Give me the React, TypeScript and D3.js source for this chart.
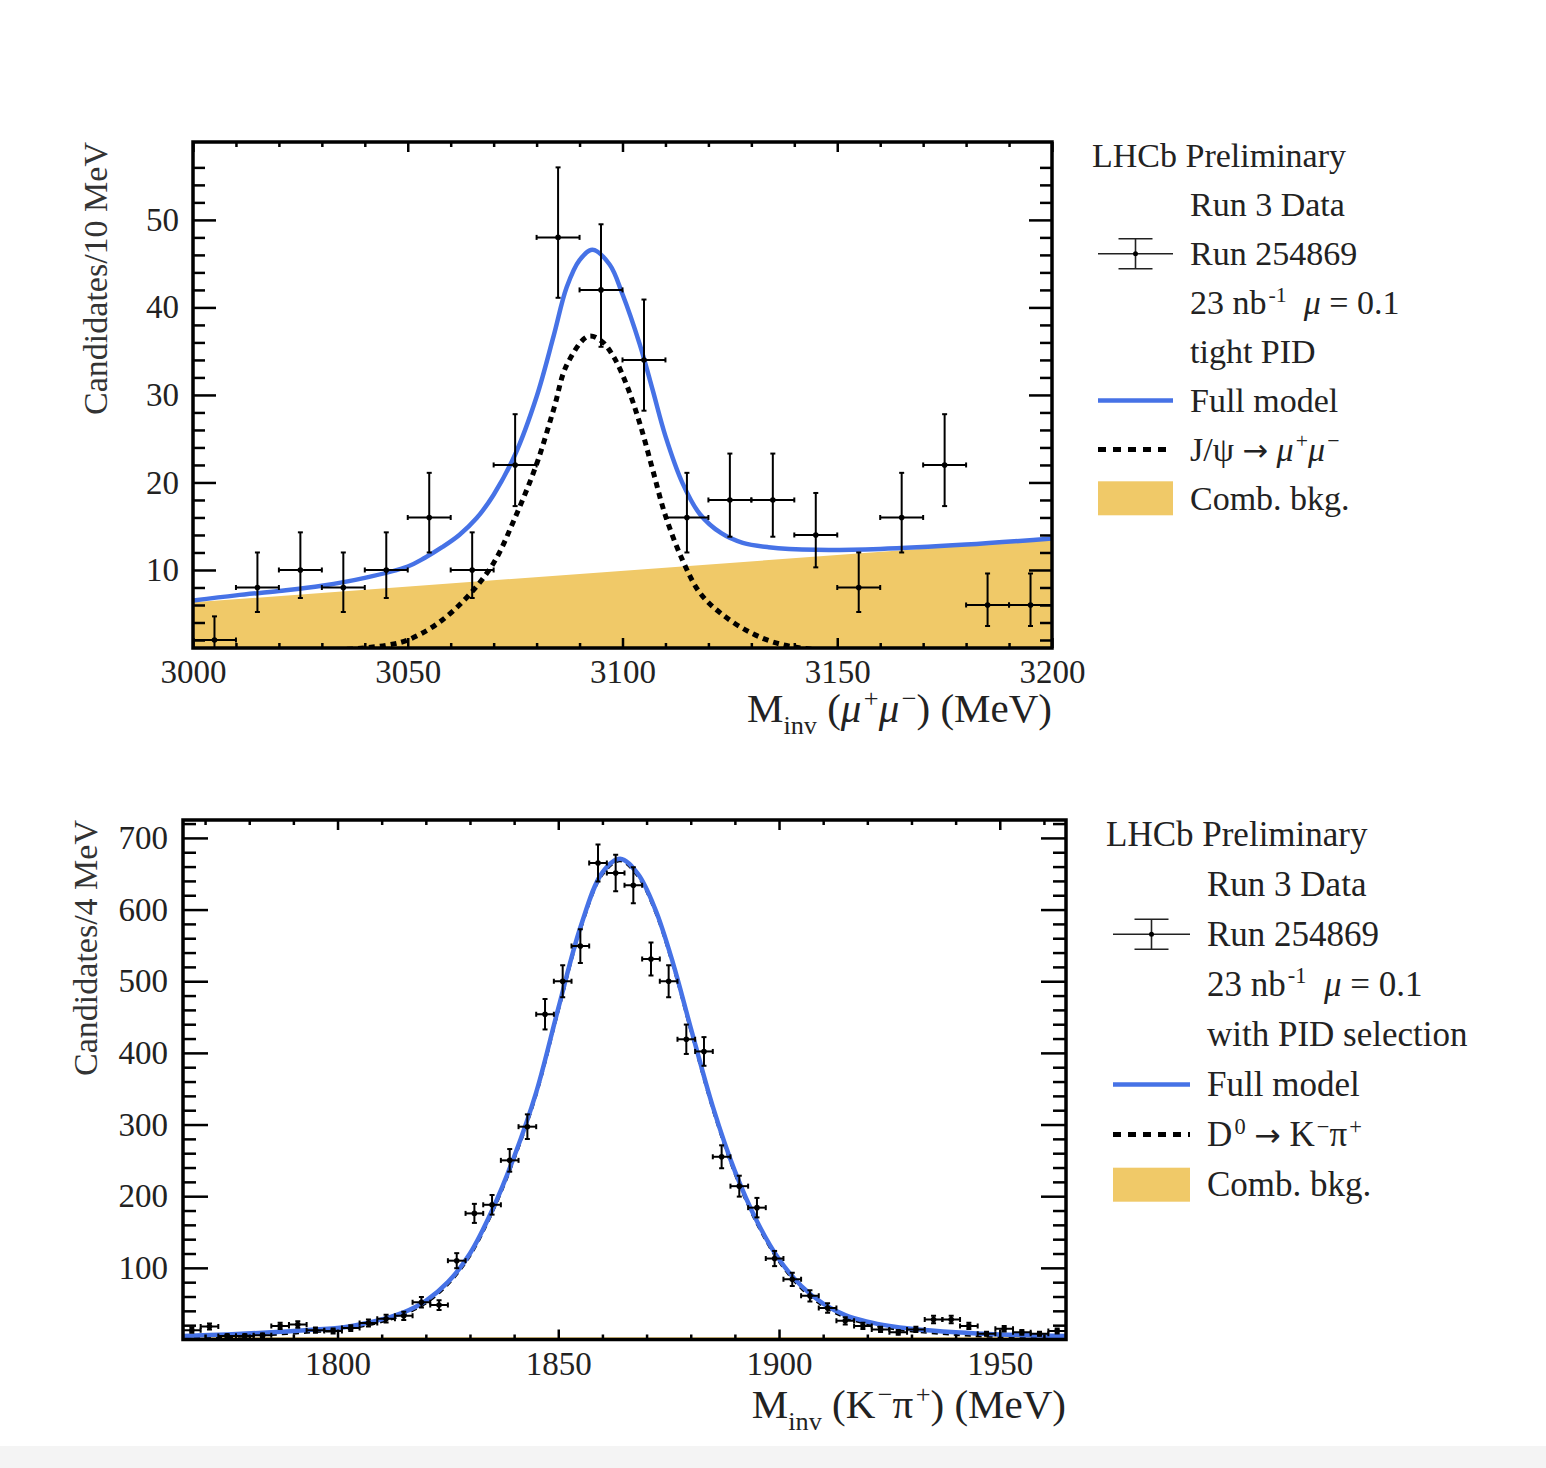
import React, { useEffect, useRef } from 'react';
import * as d3 from 'd3';

const W = 1546;
const H = 1468;
const FONT = '"Liberation Serif", "Times New Roman", Times, serif';
const BLUE = '#4672e6';
const BKG = '#f0c968';

// ---- J/psi -> mu+ mu- panel (Candidates / 10 MeV) ----
const jpsiCenters = [3005, 3015, 3025, 3035, 3045, 3055, 3065, 3075, 3085, 3095, 3105, 3115, 3125, 3135, 3145, 3155, 3165, 3175, 3185, 3195];
const jpsiCounts = [2, 8, 10, 8, 10, 16, 10, 22, 48, 42, 34, 16, 18, 18, 14, 8, 16, 22, 6, 6];
const jpsiErrLo = [1.3, 2.8, 3.2, 2.8, 3.2, 4.0, 3.2, 4.7, 6.9, 6.5, 5.8, 4.0, 4.2, 4.2, 3.7, 2.8, 4.0, 4.7, 2.4, 2.4];
const jpsiErrHi = [2.7, 4.0, 4.3, 4.0, 4.3, 5.1, 4.3, 5.8, 8.0, 7.5, 6.9, 5.1, 5.3, 5.3, 4.8, 4.0, 5.1, 5.8, 3.6, 3.6];
const jpsiModelX = [3000, 3010, 3020, 3030, 3040, 3050, 3054, 3058, 3062, 3066, 3070, 3075, 3080, 3084, 3087, 3090, 3093, 3097, 3100, 3104, 3107, 3110, 3114, 3118, 3123, 3128, 3134, 3145, 3160, 3180, 3200];
const jpsiModelY = [6.5, 7.1, 7.6, 8.2, 9.1, 10.4, 11.4, 12.6, 14.0, 15.9, 18.6, 23.2, 29.8, 36.8, 42.3, 45.4, 46.6, 44.9, 41.5, 35.8, 30.6, 25.3, 19.9, 16.4, 14.2, 13.1, 12.6, 12.3, 12.4, 12.9, 13.6];
const jpsiSigX = [3000, 3020, 3035, 3045, 3050, 3057, 3064, 3070, 3075, 3080, 3084, 3087, 3092, 3095, 3098, 3101, 3104, 3107, 3110, 3114, 3118, 3123, 3130, 3137, 3150, 3170, 3200];
const jpsiSigY = [0.3, 0.5, 0.9, 1.4, 2.0, 3.9, 7.0, 10.8, 16.0, 22.1, 28.4, 33.4, 36.7, 36.2, 34.3, 31.1, 26.8, 21.5, 16.2, 11.1, 7.4, 5.0, 2.8, 1.5, 0.7, 0.4, 0.3];
const jpsiBkgX = [3000, 3200];
const jpsiBkgY = [6.3, 13.5];
const jpsiXTicks = [3000, 3050, 3100, 3150, 3200];
const jpsiYTicks = [10, 20, 30, 40, 50];
const jpsiLegend = ['Run 3 Data', 'Run 254869', '23 nb^{-1}  #it{μ} = 0.1', 'tight PID', 'Full model', 'J/ψ → #it{μ}^{+}#it{μ}^{−}', 'Comb. bkg.'];

// ---- D0 -> K- pi+ panel (Candidates / 4 MeV) ----
const d0Centers = [1767, 1771, 1775, 1779, 1783, 1787, 1791, 1795, 1799, 1803, 1807, 1811, 1815, 1819, 1823, 1827, 1831, 1835, 1839, 1843, 1847, 1851, 1855, 1859, 1863, 1867, 1871, 1875, 1879, 1883, 1887, 1891, 1895, 1899, 1903, 1907, 1911, 1915, 1919, 1923, 1927, 1931, 1935, 1939, 1943, 1947, 1951, 1955, 1959, 1963];
const d0Counts = [13, 18, 5, 5, 6, 19, 21, 13, 12, 16, 23, 29, 33, 52, 48, 110, 176, 188, 250, 297, 454, 500, 549, 665, 651, 634, 531, 500, 419, 402, 255, 214, 184, 113, 84, 61, 44, 26, 19, 14, 10, 14, 28, 28, 19, 8, 15, 10, 8, 12];
const d0Err = [3.6, 4.2, 2.2, 2.2, 2.4, 4.4, 4.6, 3.6, 3.5, 4.0, 4.8, 5.4, 5.7, 7.2, 6.9, 10.5, 13.3, 13.7, 15.8, 17.2, 21.3, 22.4, 23.4, 25.8, 25.5, 25.2, 23.0, 22.4, 20.5, 20.0, 16.0, 14.6, 13.6, 10.6, 9.2, 7.8, 6.6, 5.1, 4.4, 3.7, 3.2, 3.7, 5.3, 5.3, 4.4, 2.8, 3.9, 3.2, 2.8, 3.5];
const d0ModelX = [1765, 1775, 1785, 1795, 1800, 1805, 1810, 1815, 1820, 1825, 1830, 1835, 1840, 1845, 1850, 1855, 1860, 1864, 1868, 1872, 1876, 1880, 1885, 1890, 1895, 1900, 1905, 1910, 1915, 1920, 1925, 1930, 1940, 1950, 1965];
const d0ModelY = [5, 7, 10, 14, 16, 21, 28, 38, 54, 80, 120, 180, 255, 345, 462, 575, 652, 671, 650, 600, 525, 435, 325, 235, 165, 112, 75, 50, 34, 25, 19, 15, 10, 7, 5];
const d0SigY = [2, 4, 7, 11, 13, 18, 25, 35, 51, 77, 117, 177, 252, 342, 459, 572, 649, 668, 647, 597, 522, 432, 322, 232, 162, 109, 72, 47, 31, 22, 16, 12, 7, 4, 2];
const d0BkgX = [1765, 1965];
const d0BkgY = [3, 3];
const d0XTicks = [1800, 1850, 1900, 1950];
const d0YTicks = [100, 200, 300, 400, 500, 600, 700];
const d0Legend = ['Run 3 Data', 'Run 254869', '23 nb^{-1}  #it{μ} = 0.1', 'with PID selection', 'Full model', 'D^{0} → K^{−}π^{+}', 'Comb. bkg.'];

// tiny TLatex-like markup: ^{..} superscript, _{..} subscript, #it{..} italic, arrow in a wider font
function latex(text: any, str: string, size: number) {
  const parts = str.split(/(\^\{[^}]*\}|_\{[^}]*\}|#it\{[^}]*\}|→)/).filter((s) => s !== '');
  let shift = 0;
  parts.forEach((p) => {
    let txt = p, dy = 0, dx = 0, fs = size, it = false, arrow = false;
    if (p.startsWith('^{')) { txt = p.slice(2, -1); dy = -0.36 * size; fs = 0.64 * size; dx = 0.06 * size; }
    else if (p.startsWith('_{')) { txt = p.slice(2, -1); dy = 0.3 * size; fs = 0.64 * size; }
    else if (p.startsWith('#it{')) { txt = p.slice(4, -1); it = true; }
    else if (p === '→') { arrow = true; fs = 0.9 * size; }
    const t = text.append('tspan').attr('dy', dy - shift).attr('font-size', fs).text(txt);
    if (dx) t.attr('dx', dx);
    if (it) t.attr('font-style', 'italic');
    if (arrow) t.attr('font-family', '"DejaVu Sans", sans-serif');
    shift = dy;
  });
}

function drawPanel(svg: any, p: any) {
  const x = d3.scaleLinear().domain(p.xDomain).range([p.left, p.right]);
  const y = d3.scaleLinear().domain(p.yDomain).range([p.bottom, p.top]);

  svg.append('clipPath').attr('id', p.id).append('rect')
    .attr('x', p.left).attr('y', p.top)
    .attr('width', p.right - p.left).attr('height', p.bottom - p.top);
  const g = svg.append('g').attr('clip-path', `url(#${p.id})`);

  const bkgArea = d3.area<number>()
    .x((_, i) => x(p.bkgX[i]))
    .y0(y(p.yDomain[0]))
    .y1((d) => y(d));
  g.append('path').datum(p.bkgY).attr('d', bkgArea).attr('fill', BKG);

  const sigLine = d3.line<number>().x((_, i) => x(p.sigX[i])).y((d) => y(d)).curve(d3.curveCatmullRom.alpha(0.5));
  g.append('path').datum(p.sigY).attr('d', sigLine)
    .attr('fill', 'none').attr('stroke', '#000').attr('stroke-width', p.sigWidth)
    .attr('stroke-dasharray', '6 5');

  const modelLine = d3.line<number>().x((_, i) => x(p.modelX[i])).y((d) => y(d)).curve(d3.curveCatmullRom.alpha(0.5));
  g.append('path').datum(p.modelY).attr('d', modelLine)
    .attr('fill', 'none').attr('stroke', BLUE).attr('stroke-width', 4.5);

  // data points with error bars
  const pts = g.append('g').attr('stroke', '#000').attr('stroke-width', 2)
    .selectAll('g').data(p.counts).enter().append('g');
  const cx = (i: number) => x(p.centers[i]);
  pts.append('line')
    .attr('x1', (_: any, i: number) => cx(i)).attr('x2', (_: any, i: number) => cx(i))
    .attr('y1', (d: number, i: number) => y(d - p.errLo[i])).attr('y2', (d: number, i: number) => y(d + p.errHi[i]));
  pts.append('line')
    .attr('x1', (_: any, i: number) => x(p.centers[i] - p.halfBin)).attr('x2', (_: any, i: number) => x(p.centers[i] + p.halfBin))
    .attr('y1', (d: number) => y(d)).attr('y2', (d: number) => y(d));
  [-1, 1].forEach((s) => {
    pts.append('line')
      .attr('x1', (_: any, i: number) => cx(i) - 2.5).attr('x2', (_: any, i: number) => cx(i) + 2.5)
      .attr('y1', (d: number, i: number) => y(s > 0 ? d + p.errHi[i] : d - p.errLo[i]))
      .attr('y2', (d: number, i: number) => y(s > 0 ? d + p.errHi[i] : d - p.errLo[i]));
    pts.append('line')
      .attr('x1', (_: any, i: number) => x(p.centers[i] + s * p.halfBin)).attr('x2', (_: any, i: number) => x(p.centers[i] + s * p.halfBin))
      .attr('y1', (d: number) => y(d) - 2.5).attr('y2', (d: number) => y(d) + 2.5);
  });
  pts.append('circle')
    .attr('cx', (_: any, i: number) => cx(i)).attr('cy', (d: number) => y(d))
    .attr('r', 2.8).attr('fill', '#000').attr('stroke', 'none');

  // ROOT style ticks on all four sides
  const axes = svg.append('g');
  const addAxis = (axis: any, tr: string) => {
    const a = axes.append('g').attr('transform', tr).call(axis);
    a.attr('font-family', FONT);
    a.select('.domain').remove();
    a.selectAll('.tick line').attr('stroke', '#000').attr('stroke-width', 2.5);
    return a;
  };
  const none = () => '';
  const xb = addAxis(d3.axisBottom(x).tickValues(p.xTicks).tickSize(-p.xMaj).tickFormat(d3.format('d')), `translate(0,${p.bottom})`);
  xb.selectAll('text').attr('y', p.xLabelOff).attr('dy', 0).attr('font-size', p.tickFont).attr('font-family', FONT).attr('fill', '#222');
  addAxis(d3.axisBottom(x).tickValues(p.xMinor).tickSize(-p.xMin).tickFormat(none), `translate(0,${p.bottom})`);
  addAxis(d3.axisTop(x).tickValues(p.xTicks).tickSize(-p.xMaj).tickFormat(none), `translate(0,${p.top})`);
  addAxis(d3.axisTop(x).tickValues(p.xMinor).tickSize(-p.xMin).tickFormat(none), `translate(0,${p.top})`);
  const yl = addAxis(d3.axisLeft(y).tickValues(p.yTicks).tickSize(-p.yMaj).tickPadding(p.yLabelPad).tickFormat(d3.format('d')), `translate(${p.left},0)`);
  yl.selectAll('text').attr('font-size', p.tickFont).attr('font-family', FONT).attr('fill', '#222');
  addAxis(d3.axisLeft(y).tickValues(p.yMinor).tickSize(-p.yMin).tickFormat(none), `translate(${p.left},0)`);
  addAxis(d3.axisRight(y).tickValues(p.yTicks).tickSize(-p.yMaj).tickFormat(none), `translate(${p.right},0)`);
  addAxis(d3.axisRight(y).tickValues(p.yMinor).tickSize(-p.yMin).tickFormat(none), `translate(${p.right},0)`);

  svg.append('rect').attr('x', p.left).attr('y', p.top)
    .attr('width', p.right - p.left).attr('height', p.bottom - p.top)
    .attr('fill', 'none').attr('stroke', '#000').attr('stroke-width', 3.5);

  // axis titles
  const xt = svg.append('text').attr('x', p.right).attr('y', p.xTitleY)
    .attr('text-anchor', 'end').attr('font-family', FONT).attr('fill', '#222').style('white-space', 'pre');
  latex(xt, p.xTitle, 41);
  svg.append('text').attr('transform', `translate(${p.yTitleX},${p.top}) rotate(-90)`)
    .attr('text-anchor', 'end').attr('font-family', FONT).attr('font-size', 34).attr('fill', '#333')
    .text(p.yTitle);
}

function drawLegend(svg: any, L: any) {
  const row = (i: number) => L.y0 + i * L.dy;
  const fs = L.font;
  const g = svg.append('g').attr('font-family', FONT).attr('fill', '#222');
  g.append('text').attr('x', L.headX).attr('y', row(0) + 0.33 * fs).attr('font-size', fs).text('LHCb Preliminary');
  L.entries.forEach((s: string, i: number) => {
    const t = g.append('text').attr('x', L.textX).attr('y', row(i + 1) + 0.33 * fs).style('white-space', 'pre');
    latex(t, s, fs);
  });
  const mx = (L.m0 + L.m1) / 2;
  // data marker
  const ym = row(2);
  const dm = g.append('g').attr('stroke', '#222').attr('stroke-width', 1.6);
  dm.append('line').attr('x1', L.m0).attr('x2', L.m1).attr('y1', ym).attr('y2', ym);
  dm.append('line').attr('x1', mx).attr('x2', mx).attr('y1', ym - 15).attr('y2', ym + 15);
  [-15, 15].forEach((o) => dm.append('line').attr('x1', mx - 17).attr('x2', mx + 17).attr('y1', ym + o).attr('y2', ym + o));
  g.append('circle').attr('cx', mx).attr('cy', ym).attr('r', 2.5).attr('fill', '#000');
  // full model
  g.append('line').attr('x1', L.m0).attr('x2', L.m1).attr('y1', row(5)).attr('y2', row(5))
    .attr('stroke', BLUE).attr('stroke-width', 4.5);
  // signal
  g.append('line').attr('x1', L.m0).attr('x2', L.m1).attr('y1', row(6)).attr('y2', row(6))
    .attr('stroke', '#000').attr('stroke-width', 5).attr('stroke-dasharray', '8 7');
  // background
  g.append('rect').attr('x', L.m0).attr('y', row(7) - 17).attr('width', L.m1 - L.m0).attr('height', 34).attr('fill', BKG);
}

export default function App() {
  const ref = useRef<SVGSVGElement>(null);
  useEffect(() => {
    const svg = d3.select(ref.current);
    svg.selectAll('*').remove();
    svg.append('rect').attr('width', W).attr('height', H).attr('fill', '#fff');
    svg.append('rect').attr('y', 1446).attr('width', W).attr('height', H - 1446).attr('fill', '#f4f4f4');

    drawPanel(svg, {
      id: 'clip-jpsi', left: 193, right: 1052, top: 142, bottom: 648,
      xDomain: [3000, 3200], yDomain: [1.086, 58.9],
      centers: jpsiCenters, counts: jpsiCounts, errLo: jpsiErrLo, errHi: jpsiErrHi, halfBin: 5,
      modelX: jpsiModelX, modelY: jpsiModelY, sigX: jpsiSigX, sigY: jpsiSigY, sigWidth: 5,
      bkgX: jpsiBkgX, bkgY: jpsiBkgY,
      xTicks: jpsiXTicks, xMinor: d3.range(3010, 3200, 10).filter((v) => v % 50 !== 0),
      yTicks: jpsiYTicks, yMinor: d3.range(2, 58, 2).filter((v) => v % 10 !== 0),
      xMaj: 10, xMin: 5, yMaj: 23, yMin: 12, tickFont: 33, xLabelOff: 35, yLabelPad: 14,
      xTitle: 'M_{inv} (#it{μ}^{+}#it{μ}^{−}) (MeV)', xTitleY: 722,
      yTitle: 'Candidates/10 MeV', yTitleX: 107,
    });
    drawLegend(svg, { headX: 1092, textX: 1190, m0: 1098, m1: 1173, y0: 156, dy: 48.9, font: 34, entries: jpsiLegend });

    drawPanel(svg, {
      id: 'clip-d0', left: 183, right: 1066, top: 820, bottom: 1339.5,
      xDomain: [1765, 1965], yDomain: [0, 725],
      centers: d0Centers, counts: d0Counts, errLo: d0Err, errHi: d0Err, halfBin: 2,
      modelX: d0ModelX, modelY: d0ModelY, sigX: d0ModelX, sigY: d0SigY, sigWidth: 3,
      bkgX: d0BkgX, bkgY: d0BkgY,
      xTicks: d0XTicks, xMinor: d3.range(1770, 1965, 10).filter((v) => v % 50 !== 0),
      yTicks: d0YTicks, yMinor: d3.range(20, 725, 20).filter((v) => v % 100 !== 0),
      xMaj: 10, xMin: 5, yMaj: 25, yMin: 13, tickFont: 33, xLabelOff: 35, yLabelPad: 15,
      xTitle: 'M_{inv} (K^{−}π^{+}) (MeV)', xTitleY: 1418,
      yTitle: 'Candidates/4 MeV', yTitleX: 97,
    });
    drawLegend(svg, { headX: 1106, textX: 1207, m0: 1113, m1: 1190, y0: 834, dy: 50.1, font: 35, entries: d0Legend });
  }, []);
  return <svg ref={ref} width={W} height={H} style={{ position: 'absolute', left: 0, top: 0 }} />;
}
